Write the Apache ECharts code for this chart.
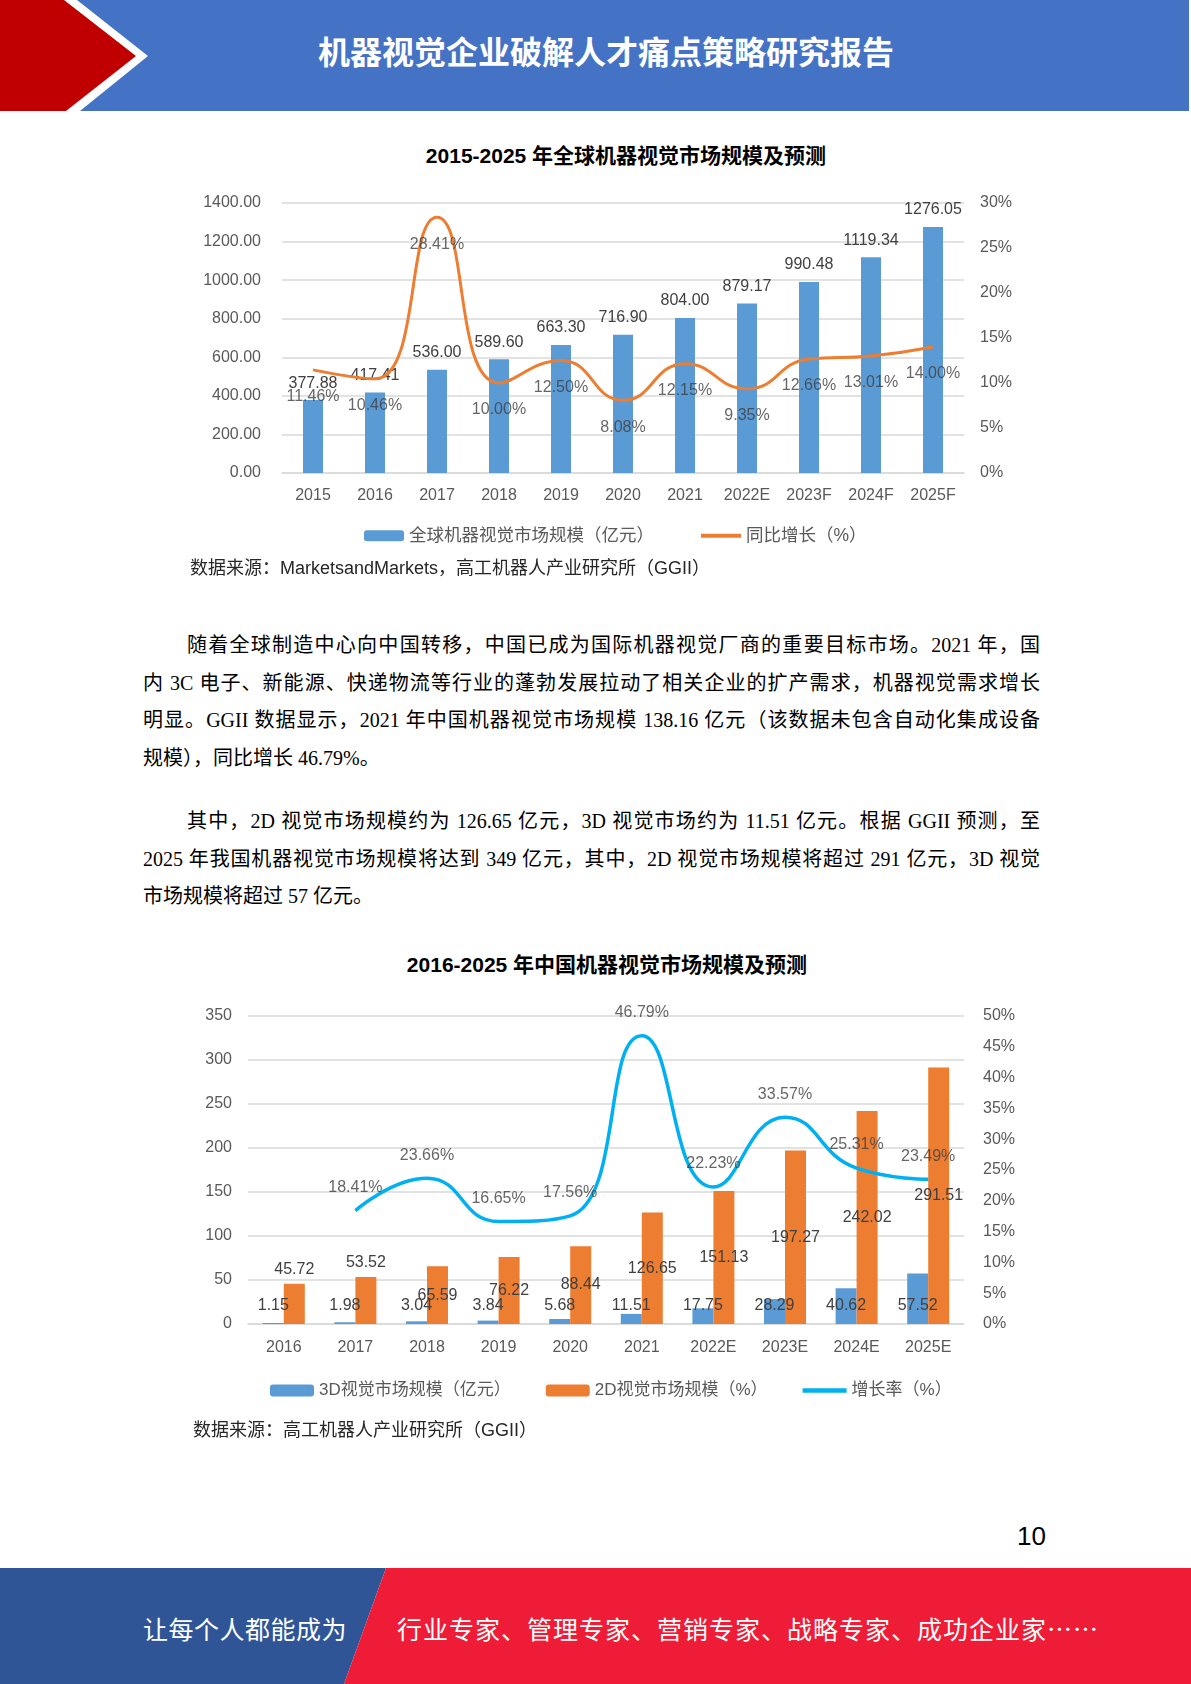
<!DOCTYPE html>
<html><head><meta charset="utf-8">
<script src="https://cdn.jsdelivr.net/npm/echarts@6/dist/echarts.min.js"></script>
<style>
html,body{margin:0;padding:0;background:#fff;}
#page{position:relative;width:1191px;height:1684px;overflow:hidden;font-family:"Noto Sans CJK SC",sans-serif;}
.abs{position:absolute;}
.ctitle{position:absolute;width:600px;text-align:center;font-family:"Liberation Sans","Noto Sans CJK SC",sans-serif;font-weight:bold;font-size:21px;line-height:30px;color:#000;white-space:nowrap;}
.src{position:absolute;font-family:"Liberation Sans","Noto Sans CJK SC",sans-serif;font-size:18px;line-height:24px;color:#262626;white-space:nowrap;}
.para{position:absolute;left:143px;width:897px;font-family:"Liberation Serif","Noto Sans CJK SC",serif;font-size:20px;line-height:37.5px;color:#000;}
.full{text-align:justify;text-align-last:justify;white-space:nowrap;}
.last{text-align:left;white-space:nowrap;}
.ind{padding-left:44px;}
</style>
</head><body>
<div id="page">
  <svg class="abs" style="left:0;top:0" width="1191" height="111">
    <rect x="0" y="0" width="1189" height="111" fill="#4472C4"/>
    <polygon points="0,0 77,0 148,56 80,111 0,111" fill="#ffffff"/>
    <polygon points="0,0 64,0 136,56 66,111 0,111" fill="#C00000"/>
  </svg>
  <div class="abs" style="left:306px;top:30px;width:600px;text-align:center;font-size:32px;line-height:40px;font-weight:bold;color:#fff;white-space:nowrap;">机器视觉企业破解人才痛点策略研究报告</div>

  <div class="ctitle" style="left:326px;top:141px;">2015-2025 年全球机器视觉市场规模及预测</div>
  <div id="chart1" class="abs" style="left:0;top:120px;width:1191px;height:470px;"></div>
  <div class="src" style="left:190px;top:556px;">数据来源：MarketsandMarkets，高工机器人产业研究所（GGII）</div>

  <div class="para" style="top:627px;">
    <div class="full ind">随着全球制造中心向中国转移，中国已成为国际机器视觉厂商的重要目标市场。2021 年，国</div>
    <div class="full">内 3C 电子、新能源、快递物流等行业的蓬勃发展拉动了相关企业的扩产需求，机器视觉需求增长</div>
    <div class="full">明显。GGII 数据显示，2021 年中国机器视觉市场规模 138.16 亿元（该数据未包含自动化集成设备</div>
    <div class="last">规模），同比增长 46.79%。</div>
  </div>
  <div class="para" style="top:803px;">
    <div class="full ind">其中，2D 视觉市场规模约为 126.65 亿元，3D 视觉市场约为 11.51 亿元。根据 GGII 预测，至</div>
    <div class="full">2025 年我国机器视觉市场规模将达到 349 亿元，其中，2D 视觉市场规模将超过 291 亿元，3D 视觉</div>
    <div class="last">市场规模将超过 57 亿元。</div>
  </div>

  <div class="ctitle" style="left:307px;top:950px;">2016-2025 年中国机器视觉市场规模及预测</div>
  <div id="chart2" class="abs" style="left:0;top:980px;width:1191px;height:450px;"></div>
  <div class="src" style="left:193px;top:1418px;">数据来源：高工机器人产业研究所（GGII）</div>

  <div class="abs" style="left:946px;top:1521px;width:100px;text-align:right;font-family:'Liberation Sans',sans-serif;font-size:26px;line-height:30px;color:#000;">10</div>

  <svg class="abs" style="left:0;top:1568px" width="1191" height="116">
    <polygon points="0,0 386,0 344,116 0,116" fill="#2F5597"/>
    <polygon points="386,0 1191,0 1191,116 344,116" fill="#EE1C36"/>
  </svg>
  <div class="abs" style="left:143px;top:1612px;font-size:25px;line-height:32px;color:#fff;white-space:nowrap;letter-spacing:0.5px;">让每个人都能成为</div>
  <div class="abs" style="left:397px;top:1612px;font-size:25px;line-height:32px;color:#fff;white-space:nowrap;letter-spacing:1px;">行业专家、管理专家、营销专家、战略专家、成功企业家……</div>
</div>
<script>
// ---------- Chart 1 data ----------
const years1 = ['2015','2016','2017','2018','2019','2020','2021','2022E','2023F','2024F','2025F'];
const globalMarket = [377.88, 417.41, 536.00, 589.60, 663.30, 716.90, 804.00, 879.17, 990.48, 1119.34, 1276.05];
const globalGrowth = [11.46, 10.46, 28.41, 10.00, 12.50, 8.08, 12.15, 9.35, 12.66, 13.01, 14.00];
const leftTicks1 = {min: 0, max: 1400, step: 200};
const rightTicks1 = {min: 0, max: 30, step: 5};

// ---------- Chart 2 data ----------
const years2 = ['2016','2017','2018','2019','2020','2021','2022E','2023E','2024E','2025E'];
const market3D = [1.15, 1.98, 3.04, 3.84, 5.68, 11.51, 17.75, 28.29, 40.62, 57.52];
const market2D = [45.72, 53.52, 65.59, 76.22, 88.44, 126.65, 151.13, 197.27, 242.02, 291.51];
const growth2 = [null, 18.41, 23.66, 16.65, 17.56, 46.79, 22.23, 33.57, 25.31, 23.49];
const leftTicks2 = {min: 0, max: 350, step: 50};
const rightTicks2 = {min: 0, max: 50, step: 5};

// label placement style for 2D bars (outside for the first two, centered otherwise)
const label2DPos = ['top','top','inside','inside','inside','inside','inside','inside','inside','inside'];

const FONT = '"Liberation Sans","Noto Sans CJK SC",sans-serif';
const GRID = '#D9D9D9';
const AXC = '#595959';
const LBC = '#404040';
const LINE_ICON = 'path://M0,0 L40,0 L40,4 L0,4 Z';

function catAxis(data, margin){
  return {type:'category', data:data, boundaryGap:true,
    axisLine:{show:true, lineStyle:{color:GRID, width:1.5}},
    axisTick:{show:false},
    axisLabel:{color:AXC, fontSize:16, fontFamily:FONT, margin:margin}};
}

const c1 = echarts.init(document.getElementById('chart1'));
c1.setOption({
  animation:false,
  grid:{left:282, right:227, top:83, height:270},
  legend:{left:359, top:402, itemWidth:40, itemHeight:11, itemGap:47, symbolKeepAspect:true,
    data:['全球机器视觉市场规模（亿元）', {name:'同比增长（%）', icon:LINE_ICON}],
    textStyle:{color:AXC, fontSize:17.5, fontFamily:FONT}},
  xAxis: catAxis(years1, 15),
  yAxis:[
    {type:'value', min:leftTicks1.min, max:leftTicks1.max, interval:leftTicks1.step,
      axisLine:{show:false}, axisTick:{show:false},
      axisLabel:{color:AXC, fontSize:16, fontFamily:FONT, margin:21, formatter:v=>v.toFixed(2)},
      splitLine:{lineStyle:{color:GRID, width:1.5}}},
    {type:'value', min:rightTicks1.min, max:rightTicks1.max, interval:rightTicks1.step,
      axisLine:{show:false}, axisTick:{show:false}, splitLine:{show:false},
      axisLabel:{color:AXC, fontSize:16, fontFamily:FONT, margin:16, formatter:'{value}%'}}
  ],
  series:[
    {name:'全球机器视觉市场规模（亿元）', type:'bar', data:globalMarket, barWidth:20,
      itemStyle:{color:'#5B9BD5'},
      label:{show:true, position:'top', distance:9, color:LBC, fontSize:16, fontFamily:FONT,
        formatter:p=>p.value.toFixed(2)}},
    {name:'同比增长（%）', type:'line', yAxisIndex:1, data:globalGrowth, smooth:0.5,
      symbol:'none', lineStyle:{color:'#ED7D31', width:3}, itemStyle:{color:'#ED7D31'}},
    {name:'g1labels', type:'scatter', yAxisIndex:1, data:globalGrowth, symbolSize:0, silent:true,
      itemStyle:{color:'rgba(0,0,0,0)'},
      label:{show:true, position:'bottom', distance:19, color:LBC, fontSize:16, fontFamily:FONT,
        formatter:p=>p.value.toFixed(2)+'%'}, z:5}
  ]
});

const c2 = echarts.init(document.getElementById('chart2'));
c2.setOption({
  animation:false,
  grid:{left:248, right:227, top:36, height:308},
  legend:{left:265, top:397, itemWidth:44, itemHeight:12, itemGap:35, symbolKeepAspect:true,
    data:['3D视觉市场规模（亿元）','2D视觉市场规模（%）', {name:'增长率（%）', icon:LINE_ICON}],
    textStyle:{color:AXC, fontSize:17, fontFamily:FONT}},
  xAxis: catAxis(years2, 16),
  yAxis:[
    {type:'value', min:leftTicks2.min, max:leftTicks2.max, interval:leftTicks2.step,
      axisLine:{show:false}, axisTick:{show:false},
      axisLabel:{color:AXC, fontSize:16, fontFamily:FONT, margin:16},
      splitLine:{lineStyle:{color:GRID, width:1.5}}},
    {type:'value', min:rightTicks2.min, max:rightTicks2.max, interval:rightTicks2.step,
      axisLine:{show:false}, axisTick:{show:false}, splitLine:{show:false},
      axisLabel:{color:AXC, fontSize:16, fontFamily:FONT, margin:19, formatter:'{value}%'}}
  ],
  series:[
    {name:'3D视觉市场规模（亿元）', type:'bar', data:market3D, barWidth:21, barGap:'0%',
      itemStyle:{color:'#5B9BD5'},
      label:{show:true, position:'insideBottom', distance:10, color:LBC, fontSize:16, fontFamily:FONT,
        formatter:p=>p.value.toFixed(2)}},
    {name:'2D视觉市场规模（%）', type:'bar', barWidth:21, barGap:'0%',
      data:market2D.map((v,i)=>({value:v, label:{position:label2DPos[i]}})),
      itemStyle:{color:'#ED7D31'},
      label:{show:true, position:'inside', distance:6, color:LBC, fontSize:16, fontFamily:FONT,
        formatter:p=>p.value.toFixed(2)}},
    {name:'增长率（%）', type:'line', yAxisIndex:1, data:growth2, smooth:0.5,
      symbol:'none', lineStyle:{color:'#00B0F0', width:3.5}, itemStyle:{color:'#00B0F0'}, z:4},
    {name:'g2labels', type:'scatter', yAxisIndex:1, data:growth2, symbolSize:0, silent:true,
      itemStyle:{color:'rgba(0,0,0,0)'},
      label:{show:true, position:'top', distance:15, color:LBC, fontSize:16, fontFamily:FONT,
        formatter:p=>p.value.toFixed(2)+'%'}, z:5}
  ]
});
</script>
</body></html>
